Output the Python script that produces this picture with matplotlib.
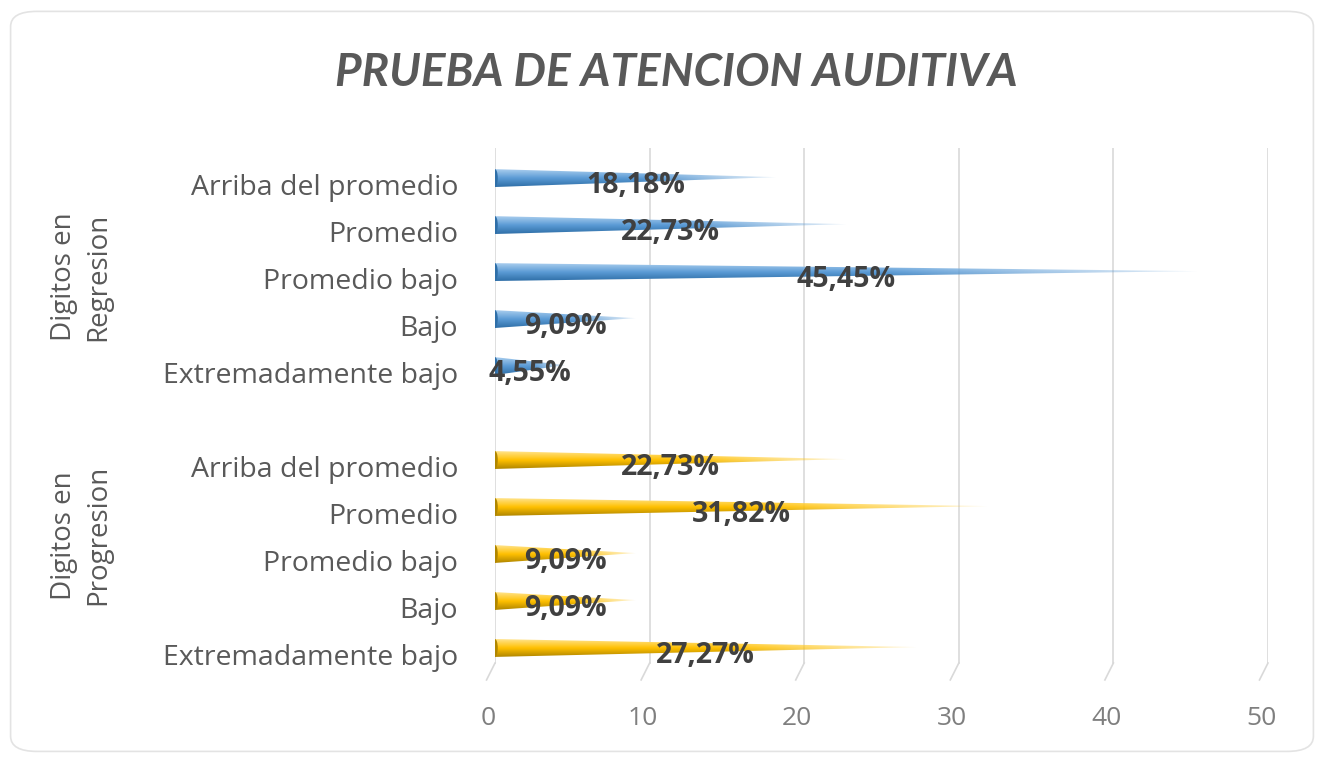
import numpy as np
import matplotlib
matplotlib.use("Agg")
import matplotlib.pyplot as plt
from matplotlib.patches import Polygon, FancyBboxPatch, Ellipse
from matplotlib.colors import to_rgb

plt.rcParams['font.family'] = ['Open Sans', 'DejaVu Sans']

# datos
categorias = ["Extremadamente bajo", "Bajo", "Promedio bajo", "Promedio", "Arriba del promedio"]
progresion = [27.27, 9.09, 9.09, 31.82, 22.73]
regresion = [4.55, 9.09, 45.45, 22.73, 18.18]
grupos = ["Digitos en\nProgresion", "Digitos en\nRegresion"]
ticks_x = [0, 10, 20, 30, 40, 50]

colores = {
    "reg": ("#2F6FA8", "#5B9BD5", "#A9CDEE"),
    "prog": ("#B08600", "#FFC000", "#FFE38A"),
}

fig = plt.figure(figsize=(13.24, 7.59), dpi=100)
fig.patch.set_facecolor("white")
marco = FancyBboxPatch((0.008, 0.01), 0.984, 0.975, boxstyle="round,pad=0,rounding_size=0.02",
                       transform=fig.transFigure, facecolor="none", edgecolor="#E3E3E3", lw=1.2,
                       zorder=-5)
fig.patches.append(marco)

ax = fig.add_axes([0.3739, 0.0534, 0.5838, 0.7516])
ax.set_xlim(0, 50)
ax.set_ylim(-1.5, 10.64)
ax.axis("off")

# rejilla con pequeña perspectiva
for t in ticks_x:
    ax.plot([t, t], [-0.32, 10.64], color="#D9D9D9", lw=1.2, zorder=1)
    ax.plot([t, t - 0.55], [-0.32, -0.68], color="#D9D9D9", lw=1.2, zorder=1, clip_on=False)
    ax.text(t - 0.45, -1.5, str(t), ha="center", va="center", fontsize=19, color="#7F7F7F")

def cono(y, v, cols):
    h = 0.19
    oscuro, medio, claro = [np.array(to_rgb(c)) for c in cols]
    poly = Polygon([(0, y - h), (0, y + h), (v, y + 0.02)], closed=True, facecolor="none",
                   edgecolor="none")
    ax.add_patch(poly)
    ny, nx = 40, 200
    fy = np.linspace(0, 1, ny)[:, None]  # 0 abajo, 1 arriba
    img = np.zeros((ny, nx, 4))
    for k in range(3):
        c = np.where(fy < 0.5, oscuro[k] + (medio[k] - oscuro[k]) * fy / 0.5,
                     medio[k] + (claro[k] - medio[k]) * (fy - 0.5) / 0.5)
        img[:, :, k] = np.broadcast_to(c, (ny, nx))
    fx = np.linspace(0, 1, nx)[None, :]
    img[:, :, 3] = np.clip(1.0 - np.clip((fx - 0.55) / 0.45, 0, 1) * 0.85, 0, 1)
    im = ax.imshow(img, extent=[0, v, y - h, y + h], origin="lower", aspect="auto", zorder=3,
                   interpolation="bilinear")
    im.set_clip_path(poly)
    ax.add_patch(Ellipse((0, y), 0.35, 2 * h, facecolor=oscuro, edgecolor="none", zorder=3))

pos_prog = np.arange(5)
pos_reg = np.arange(5) + 6

for p, v in zip(pos_prog, progresion):
    cono(p, v, colores["prog"])
for p, v in zip(pos_reg, regresion):
    cono(p, v, colores["reg"])
ax.set_xlim(0, 50)
ax.set_ylim(-1.5, 10.64)

for p, v in list(zip(pos_prog, progresion)) + list(zip(pos_reg, regresion)):
    ax.text(v / 2, p - 0.15, f"{v:.2f}%".replace(".", ","), ha="center", va="center",
            fontsize=20.5, fontweight="bold", color="#404040", zorder=5)

for p, c in list(zip(pos_prog, categorias)) + list(zip(pos_reg, categorias)):
    ax.text(-2.4, p - 0.21, c, ha="right", va="center", fontsize=20.5, color="#595959",
            clip_on=False)

ax.text(-26.8, 2.4, grupos[0], rotation=90, ha="center", va="center", fontsize=20,
        color="#595959", linespacing=1.3, multialignment="center")
ax.text(-26.8, 7.9, grupos[1], rotation=90, ha="center", va="center", fontsize=20,
        color="#595959", linespacing=1.3, multialignment="center")

fig.text(0.511, 0.904, "PRUEBA DE ATENCION AUDITIVA", ha="center", va="center", fontsize=33,
         fontweight="bold", fontstyle="italic", color="#595959", family=["Lato", "DejaVu Sans"])

fig.savefig("out.png", dpi=100)
